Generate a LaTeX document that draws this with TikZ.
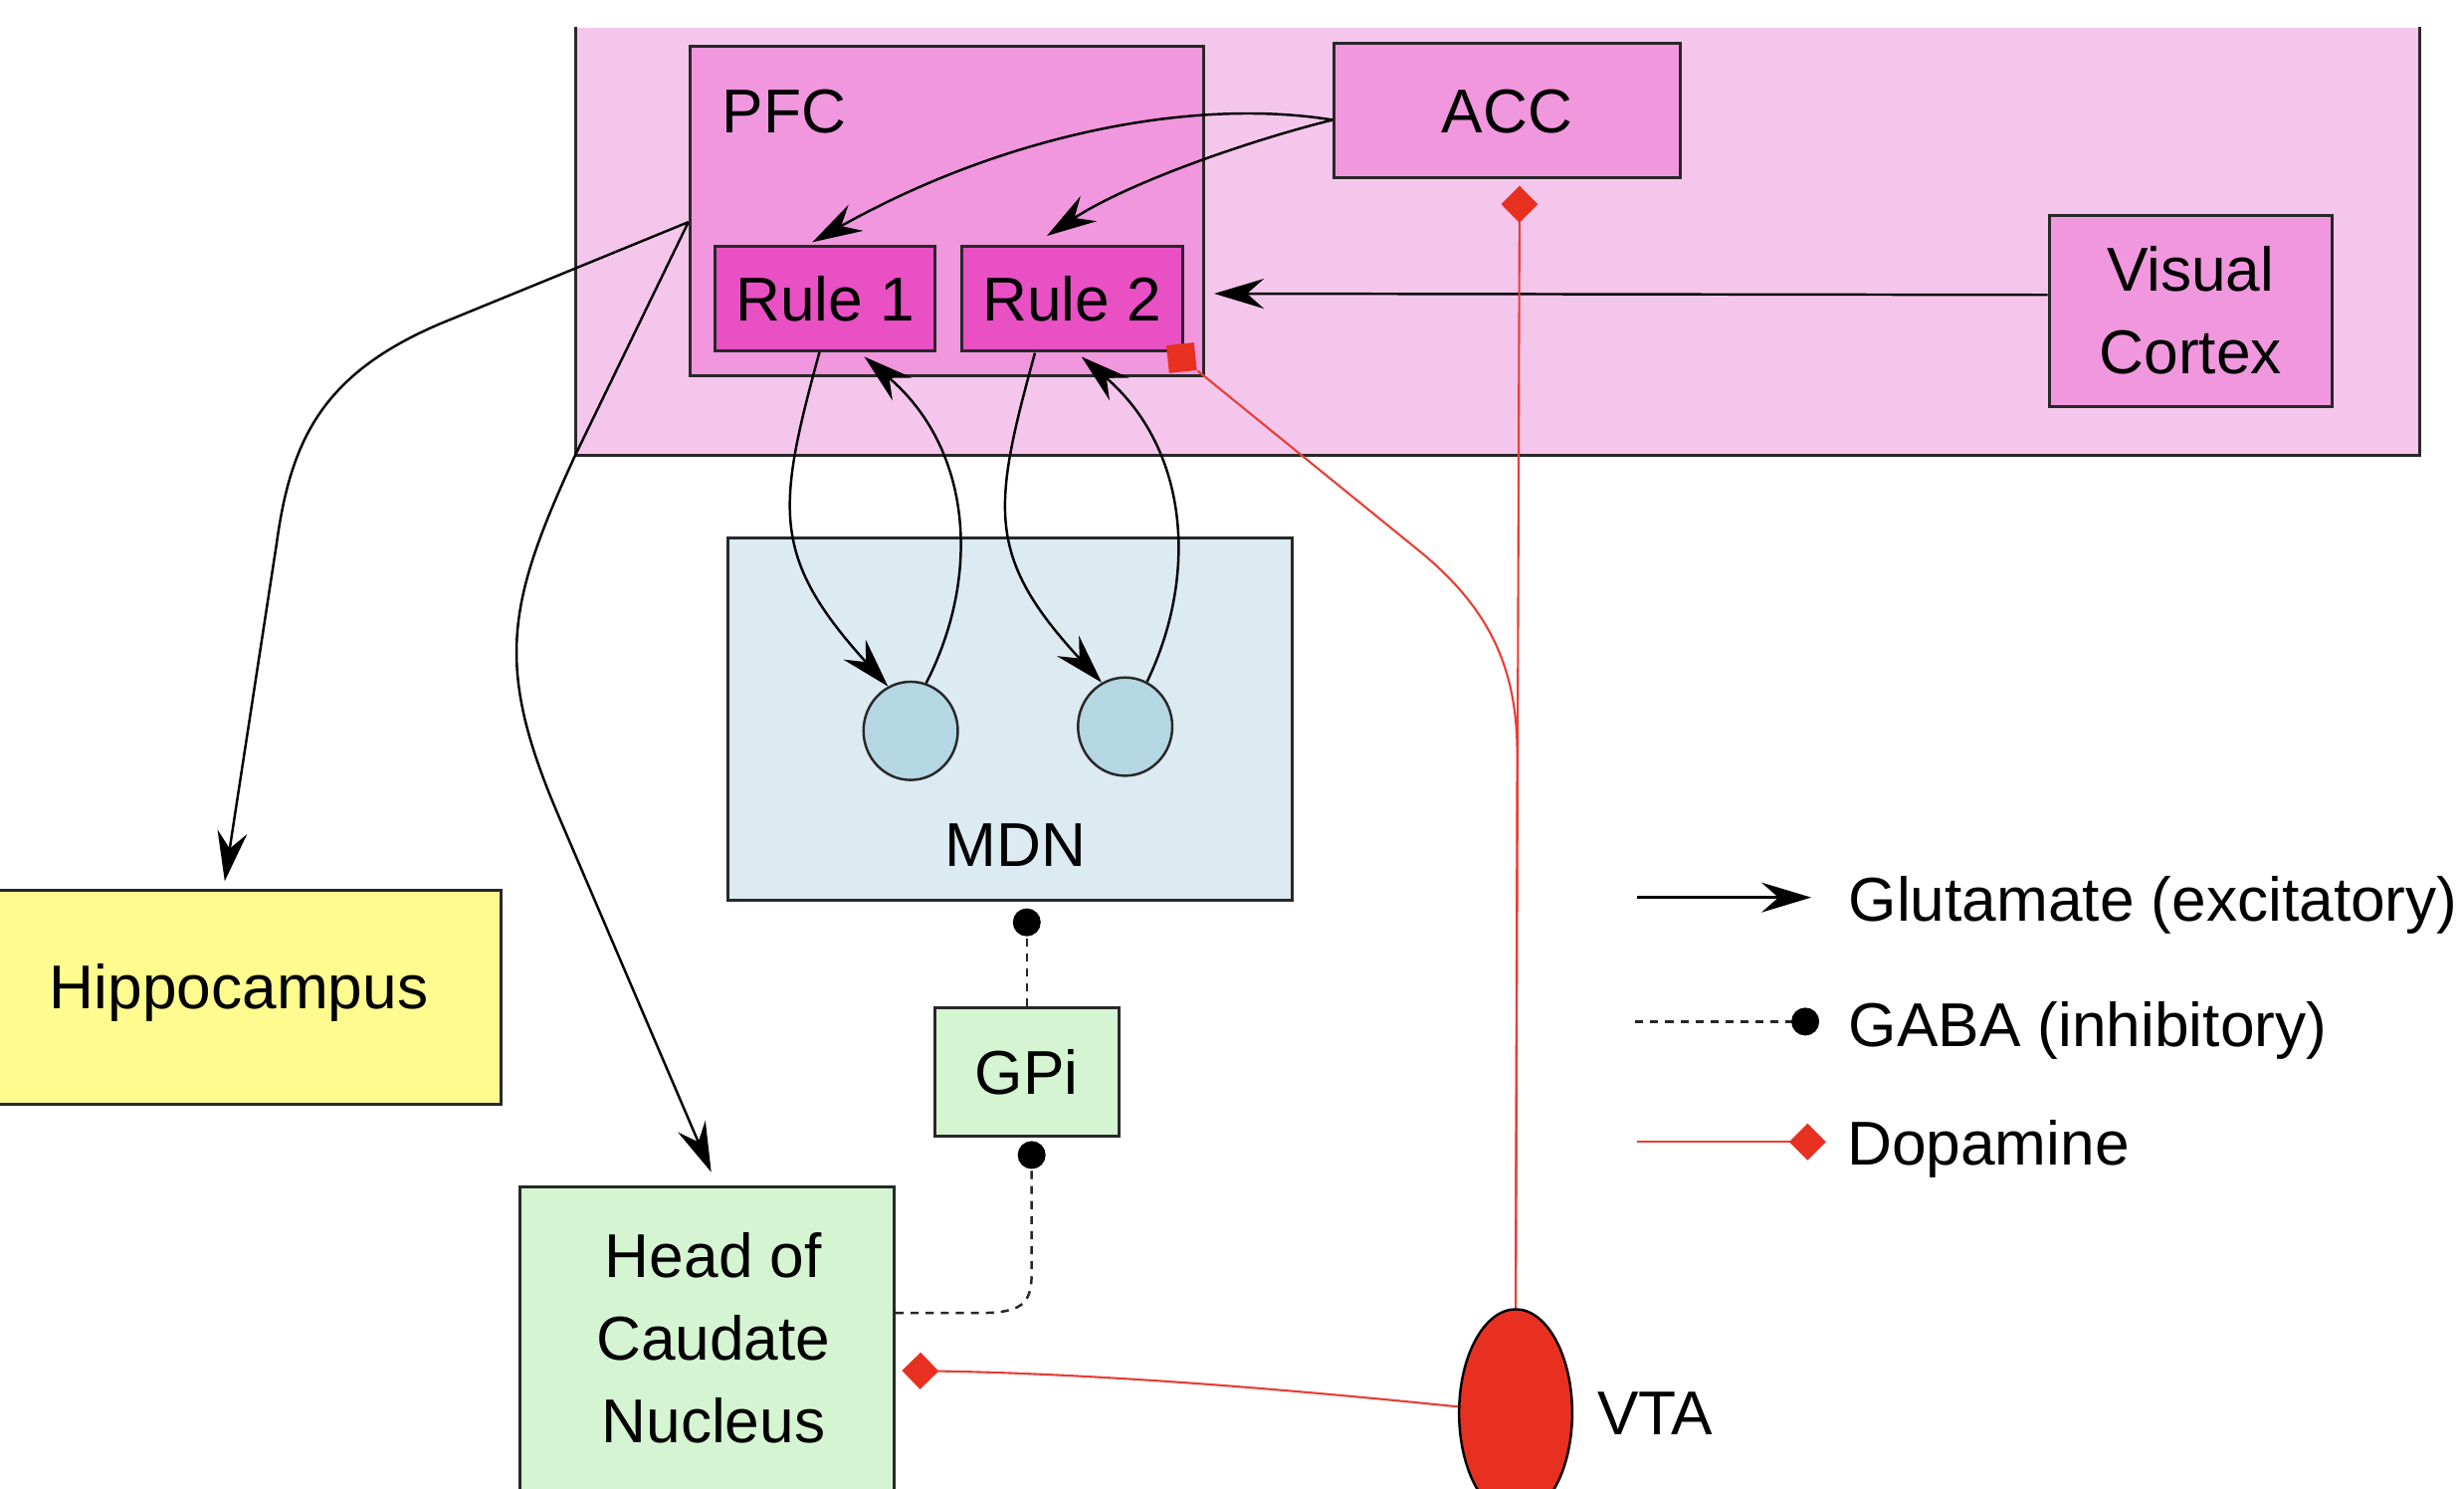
\documentclass[tikz,border=0pt]{standalone}
\usepackage{fontspec}
\setmainfont{Liberation Sans}
\usetikzlibrary{arrows.meta,calc,shapes.geometric}

\definecolor{cortexbg}{RGB}{245,198,236}
\definecolor{areafill}{RGB}{240,151,222}
\definecolor{rulefill}{RGB}{232,80,196}
\definecolor{mdnfill}{RGB}{220,234,242}
\definecolor{cellfill}{RGB}{181,215,228}
\definecolor{hippofill}{RGB}{255,251,143}
\definecolor{gangfill}{RGB}{213,245,210}
\definecolor{vtafill}{RGB}{232,48,32}
\definecolor{dopared}{RGB}{232,62,52}
\definecolor{edgegray}{RGB}{40,40,40}

\newlength\unitpx
\setlength\unitpx{0.01579cm}

\begin{document}
\begin{tikzpicture}[
  x=0.01579cm, y=-0.01579cm,
  font=\fontsize{17.7}{23.6}\selectfont,
  sized/.style n args={2}{minimum width=#1*\unitpx, minimum height=#2*\unitpx},
  region/.style={draw=edgegray, line width=0.85pt, rectangle, inner sep=0pt},
  oneline/.style={text height=12.67pt, text depth=0pt},
  cell/.style={ellipse, draw=edgegray, line width=0.7pt, fill=cellfill, inner sep=0pt},
  lbl/.style={inner sep=0pt, anchor=base},
  glu/.style={draw=black, line width=0.7pt, -{Stealth[length=0.5cm, width=0.3cm, inset=0.17cm]}},
  gaba/.style={draw=black!85, line width=0.7pt, dash pattern=on 2.3pt off 2pt, -{Circle[length=0.28cm, width=0.28cm, color=black]}},
  dopa/.style={draw=dopared, line width=0.6pt},
  dopatip/.style={dopa, -{Diamond[length=0.37cm, width=0.37cm, color=vtafill]}},
]
\useasboundingbox (0,0) rectangle (1568,947);
\fill[white] (0,0) rectangle (1568,947);

% cortex background; its top edge runs off the page
\node[sized={1172.8}{271.5}, fill=cortexbg, inner sep=0pt] (cortex) at (952.9,153.45) {};
\draw[edgegray, line width=0.85pt] (cortex.north west) -- (cortex.south west)
  -- (cortex.south east) -- (cortex.north east);

% cortical areas
\node[region, fill=areafill, sized={327}{209.4}] (pfc) at (602.5,134.3) {};
\node[lbl, anchor=base west] (pfclabel) at (459,84.3) {PFC};
\node[region, fill=areafill, sized={220}{85}, oneline] (acc) at (959,70.3) {ACC};
\node[region, fill=rulefill, sized={140}{66}, oneline] (rule1) at (525,190) {Rule 1};
\node[region, fill=rulefill, sized={140.5}{66}, oneline] (rule2) at (682.2,190) {Rule 2};
\node[region, fill=areafill, sized={180}{121.6}, align=center] (vc) at (1394,197.6) {Visual\\Cortex};

% thalamus
\node[region, fill=mdnfill, sized={359}{231}] (mdn) at (642.5,457.5) {};
\node[lbl] (mdnlabel) at (646,551) {MDN};
\node[cell, sized={60}{62.5}] (c1) at (579.5,465) {};
\node[cell, sized={60}{62.5}] (c2) at (716,462.3) {};

% subcortical targets
\node[region, fill=hippofill, sized={340.8}{136.1}] (hippo) at (148.4,634.5) {};
\node[lbl] (hippolabel) at (152,642) {Hippocampus};
\node[region, fill=gangfill, sized={117.3}{81.7}, oneline] (gpi) at (653.4,682.2) {GPi};
\node[region, fill=gangfill, sized={238}{210}] (caud) at (450,860) {};
\node[align=center, inner sep=0pt] (caudlabel) at (454,851.3) {Head of\\Caudate\\Nucleus};
\node[ellipse, draw=black, line width=0.7pt, fill=vtafill, sized={72}{132}, inner sep=0pt] (vta) at (964.5,899) {};
\node[lbl, anchor=base west] (vtalabel) at (1016,913) {VTA};

% glutamate projections
\draw[glu] ($(acc.west)+(0,6)$) .. controls (760,62) and (640,85) .. ($(rule1.north)+(-8,-2)$);
\draw[glu] ($(acc.west)+(0,6)$) .. controls (800,88) and (720,115) .. ($(rule2.north)+(-16,-6)$);
\draw[glu] ($(vc.west)+(0,-10)$) -- ($(pfc.east)+(5.7,52.5)$);
\draw[glu] ($(rule1.south)+(-3.5,0)$) .. controls (494.5,323) and (490,354) .. (c1.117);
\draw[glu] (c1.72) .. controls (625,365) and (618,285) .. ($(rule1.south)+(25,3)$);
\draw[glu] ($(rule2.south)+(-23.6,0.6)$) .. controls (631.5,323) and (627,354) .. (c2.118);
\draw[glu] (c2.64) .. controls (763,365) and (756,285) .. ($(rule2.south)+(6,3)$);
\draw[glu] ($(pfc.west)+(0,7)$) -- (280,206) .. controls (205,238) and (185,280) .. (176,346)
  -- ($(hippo.north)+(-5.4,-4.9)$);
\draw[glu] ($(pfc.west)+(0,7)$) -- (cortex.south west) .. controls (322.9,383.5) and (314.4,423) .. (355,518)
  -- ($(caud.north)+(2.6,-8.3)$);

% GABA projections
\draw[gaba] (gpi.north) -- ($(gpi.north |- mdn.south)+(0,4)$);
\draw[gaba] ($(caud.east)+(0,-24.6)$) -- (622,835.4) .. controls (650,835.4) and (656.5,830) .. (656.5,810)
  -- ($(gpi.south)+(3.1,2)$);

% dopamine projections
\draw[dopatip] (vta.north) -- ($(acc.south)+(8,4.5)$);
\draw[dopatip] ($(vta.west)+(0,-4)$) .. controls (820,884) and (700,874) .. ($(caud.east)+(4,12)$);
\node[fill=vtafill, sized={17.7}{17.7}, inner sep=0pt, rotate=6] (dsq) at ($(rule2.south east)+(-1.5,3.7)$) {};
\draw[dopa] (dsq.south east) -- (905,352) .. controls (948,388) and (965.5,425) .. (965.5,480) -- (vta.north);

% legend
\coordinate (gl1) at (1041.6,571);
\coordinate (gl2) at (1152.6,571);
\draw[glu] (gl1) -- (gl2);
\node[lbl, anchor=base west] (gltext) at (1176,586) {Glutamate (excitatory)};
\coordinate (ga1) at (1040.6,650);
\coordinate (ga2) at (1157.7,650);
\draw[gaba] (ga1) -- (ga2);
\node[lbl, anchor=base west] (gatext) at (1176,666) {GABA (inhibitory)};
\coordinate (da1) at (1042,726.5);
\coordinate (da2) at (1162,726.5);
\draw[dopatip] (da1) -- (da2);
\node[lbl, anchor=base west] (datext) at (1175,741) {Dopamine};
\end{tikzpicture}
\end{document}
